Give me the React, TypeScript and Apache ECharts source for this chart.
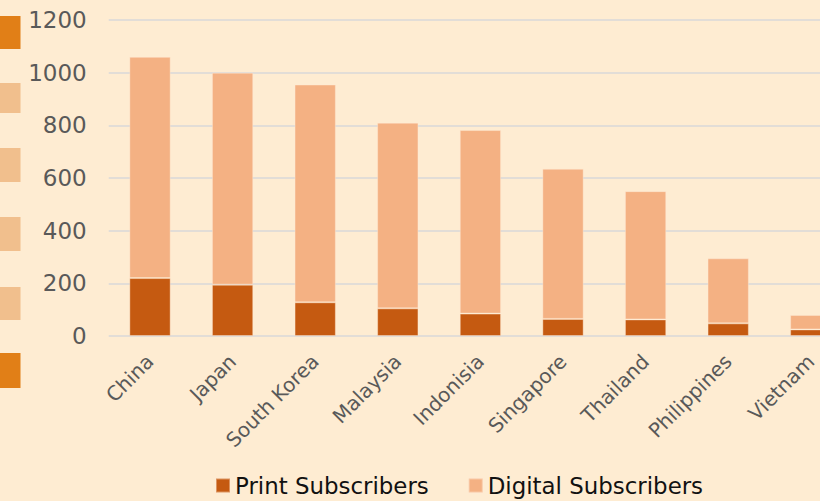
import React, { useEffect, useRef } from "react";
import * as echarts from "echarts";

const categories = ["China", "Japan", "South Korea", "Malaysia", "Indonisia", "Singapore", "Thailand", "Philippines", "Vietnam"];
const printSubscribers = [220, 195, 128, 105, 85, 65, 63, 48, 25];
const digitalSubscribers = [840, 805, 827, 705, 697, 570, 487, 247, 55];
const yTicks = { min: 0, max: 1200, interval: 200 };

const FONT = "'DejaVu Sans', Verdana, sans-serif";

export default function App() {
  const ref = useRef<HTMLDivElement>(null);
  useEffect(() => {
    if (!ref.current) return;
    const chart = echarts.init(ref.current, undefined, { renderer: "svg" });
    const squares = [
      { y: 16, h: 33, c: "#E17F17" },
      { y: 83, h: 30, c: "#F1BF8D" },
      { y: 148, h: 34, c: "#F1BF8D" },
      { y: 217, h: 34, c: "#F1BF8D" },
      { y: 287, h: 33, c: "#F1BF8D" },
      { y: 353, h: 35, c: "#E17F17" },
    ];
    chart.setOption({
      animation: false,
      backgroundColor: "#FEECD2",
      textStyle: { fontFamily: FONT },
      graphic: squares.map((s) => ({
        type: "rect",
        shape: { x: 0, y: s.y, width: 20.5, height: s.h },
        style: { fill: s.c },
        silent: true,
      })),
      grid: { left: 108.7, right: 7.9, top: 20, bottom: 165, containLabel: false },
      legend: {
        bottom: -1,
        left: 210,
        itemWidth: 14,
        itemHeight: 14,
        itemGap: 39,
        icon: "rect",
        textStyle: { fontSize: 22.9, color: "#111111", fontFamily: FONT },
        data: ["Print Subscribers", "Digital Subscribers"],
      },
      xAxis: {
        type: "category",
        data: categories,
        axisLine: { show: false },
        axisTick: { show: false },
        axisLabel: { rotate: 45, fontSize: 20, color: "#595959", margin: 22, fontFamily: FONT, interval: 0 },
      },
      yAxis: {
        type: "value",
        min: yTicks.min,
        max: yTicks.max,
        interval: yTicks.interval,
        axisLine: { show: false },
        axisTick: { show: false },
        axisLabel: { fontSize: 23, color: "#595959", margin: 22, fontFamily: FONT, formatter: (v: number) => String(v) },
        splitLine: { lineStyle: { color: "#D9D9D9", width: 1.5 } },
      },
      series: [
        {
          name: "Print Subscribers",
          type: "bar",
          stack: "total",
          barWidth: "50%",
          data: printSubscribers,
          itemStyle: { color: "#C55A11", borderColor: "rgba(255,235,215,0.4)", borderWidth: 1 },
        },
        {
          name: "Digital Subscribers",
          type: "bar",
          stack: "total",
          barWidth: "50%",
          data: digitalSubscribers,
          itemStyle: { color: "#F4B183", borderColor: "rgba(255,235,215,0.4)", borderWidth: 1 },
        },
      ],
    });
    return () => chart.dispose();
  }, []);
  return (
    <div style={{ position: "absolute", left: 0, top: 0, width: 820, height: 501, overflow: "hidden" }}>
      <div ref={ref} style={{ width: 860, height: 501 }} />
    </div>
  );
}
